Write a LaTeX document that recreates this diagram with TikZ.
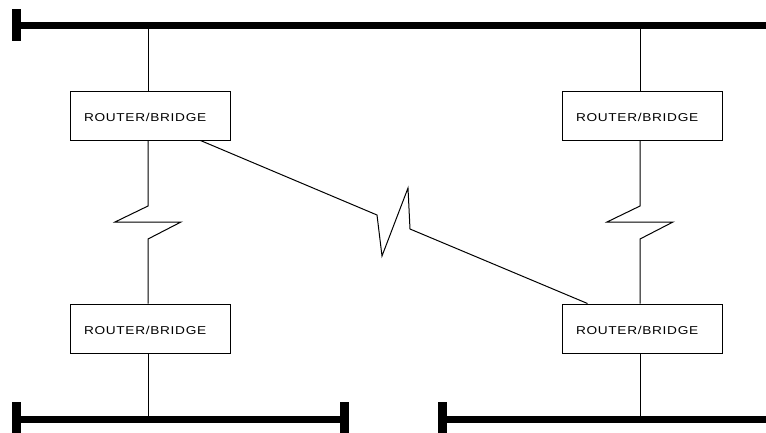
\documentclass[tikz,border=0pt]{standalone}
\usepackage{fontspec}
\setmainfont{Liberation Sans}
\newfontfamily\boxfont[FakeStretch=1.2,LetterSpace=6]{Liberation Sans}
\begin{document}
\begin{tikzpicture}[x=1pt,y=-1pt,
  bus/.style={line width=7pt},
  buscap/.style={line width=9pt},
  wire/.style={line width=1pt},
  router/.style={draw, line width=1pt, minimum height=49pt, inner xsep=14pt,
    text width=132pt, align=left, text height=11.2pt, text depth=0pt,
    font=\boxfont\fontsize{11.4}{13}\selectfont}]
  \useasboundingbox (0,0) rectangle (766,432);

  % LAN segments
  \coordinate (topL) at (16.5,25);
  \coordinate (topR) at (766,25);
  \coordinate (blL) at (16.5,419);
  \coordinate (blR) at (344,419);
  \coordinate (brL) at (442,419);
  \coordinate (brR) at (766,419);
  \draw[bus] (topL) -- (topR);
  \draw[buscap] (16.5,9) -- (16.5,41);
  \draw[bus] (blL) -- (blR);
  \draw[buscap] (16.5,402) -- (16.5,440);
  \draw[buscap] (344,402) -- (344,440);
  \draw[bus] (brL) -- (brR);
  \draw[buscap] (442,402) -- (442,440);

  % routers
  \node[router] (tl) at (150,115.5) {ROUTER/BRIDGE};
  \node[router] (tr) at (642,115.5) {ROUTER/BRIDGE};
  \node[router] (bl) at (150,328.5) {ROUTER/BRIDGE};
  \node[router] (br) at (642,328.5) {ROUTER/BRIDGE};

  % drops to the LANs
  \draw[wire] (tl.north -| 148,0) -- (148,25);
  \draw[wire] (tr.north -| 640,0) -- (640,25);
  \draw[wire] (bl.south -| 148,0) -- (148,419);
  \draw[wire] (br.south -| 640,0) -- (640,419);

  % serial links with break symbol
  \draw[wire] (tl.south -| 148,0) -- (148,206) -- (115,222) -- (181,222)
    -- (148,239) -- (bl.north -| 148,0);
  \draw[wire] (tr.south -| 640,0) -- (640,206) -- (607,222) -- (673,222)
    -- (640,239) -- (br.north -| 640,0);
  \draw[wire] ([xshift=-30pt]tl.south east) -- (377,215) -- (382,256)
    -- (408,188) -- (410,229) -- ([xshift=26pt]br.north west);
\end{tikzpicture}
\end{document}
